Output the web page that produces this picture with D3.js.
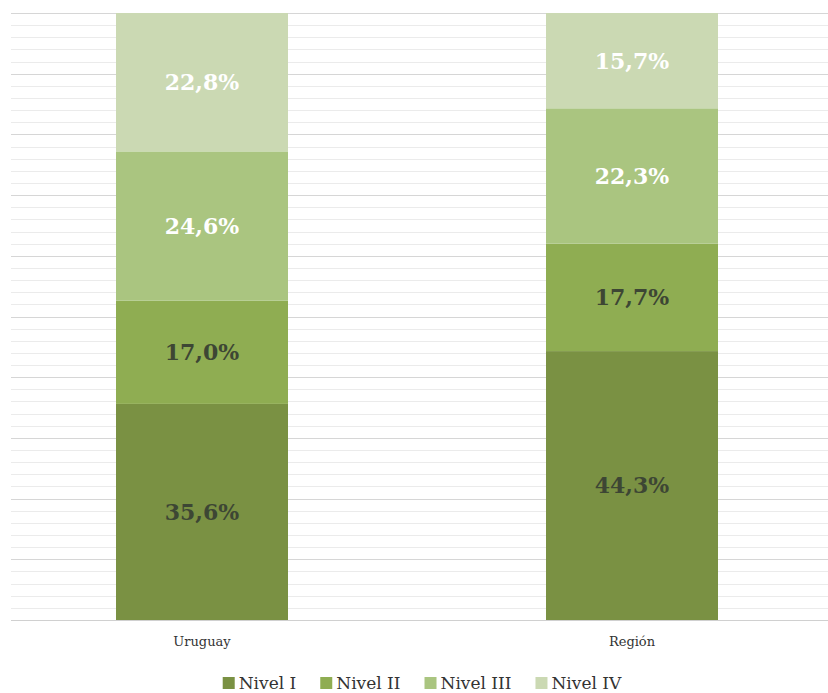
<!DOCTYPE html>
<html>
<head>
<meta charset="utf-8">
<script src="https://cdn.jsdelivr.net/npm/d3@7"></script>
<style>
  html, body { margin: 0; padding: 0; background: #fff; }
  svg { display: block; }
  text { font-family: "DejaVu Serif", "Liberation Serif", serif; }
</style>
</head>
<body>
<script>

// DATA
// ----------------------------------------------------------------------------

var categories = ['Uruguay', 'Región'];
var levels     = ['Nivel I', 'Nivel II', 'Nivel III', 'Nivel IV'];

var nivel1 = [35.6, 44.3];
var nivel2 = [17.0, 17.7];
var nivel3 = [24.6, 22.3];
var nivel4 = [22.8, 15.7];

var colors      = ['#7a9143', '#8fad52', '#aac580', '#cbd9b3'];
var labelColors = ['#3d4634', '#3d4634', '#ffffff', '#ffffff'];


// LAYOUT
// ----------------------------------------------------------------------------

var W = 828, H = 693;
var plot = { left: 11, right: 828, top: 13, bottom: 620 };

var svg = d3.select('body').append('svg')
  .attr('width', W)
  .attr('height', H);

var x = d3.scaleBand()
  .domain(categories)
  .range([-13, 847])
  .paddingInner(0.6)
  .paddingOuter(0.3);

var y = d3.scaleLinear()
  .domain([0, 100])
  .range([plot.bottom, plot.top]);


// GRID
// ----------------------------------------------------------------------------

// Minor lines every 2%, major every 10%.
var minor = d3.range(0, 101, 2).filter(function(d) { return d % 10 != 0; });
var major = d3.range(10, 101, 10);

svg.append('g').selectAll('line')
  .data(minor)
  .enter().append('line')
  .attr('x1', plot.left).attr('x2', plot.right)
  .attr('y1', function(d) { return Math.round(y(d)) + 0.5; })
  .attr('y2', function(d) { return Math.round(y(d)) + 0.5; })
  .attr('stroke', '#ebebeb')
  .attr('stroke-width', 1);

svg.append('g').selectAll('line')
  .data(major)
  .enter().append('line')
  .attr('x1', plot.left).attr('x2', plot.right)
  .attr('y1', function(d) { return Math.round(y(d)) + 0.5; })
  .attr('y2', function(d) { return Math.round(y(d)) + 0.5; })
  .attr('stroke', '#d6d6d6')
  .attr('stroke-width', 1);


// BARS
// ----------------------------------------------------------------------------

var rows = categories.map(function(c, i) {
  return {
    cat: c,
    'Nivel I': nivel1[i],
    'Nivel II': nivel2[i],
    'Nivel III': nivel3[i],
    'Nivel IV': nivel4[i]
  };
});

var stacked = d3.stack().keys(levels)(rows);

var layer = svg.append('g').selectAll('g')
  .data(stacked)
  .enter().append('g')
  .attr('fill', function(d, i) { return colors[i]; });

layer.selectAll('rect')
  .data(function(d) { return d; })
  .enter().append('rect')
  .attr('x', function(d) { return x(d.data.cat); })
  .attr('width', x.bandwidth())
  .attr('y', function(d) { return y(d[1]); })
  .attr('height', function(d) { return y(d[0]) - y(d[1]); });

// Value labels.
layer.selectAll('text')
  .data(function(d, i) {
    return d.map(function(p) { return { p: p, i: i }; });
  })
  .enter().append('text')
  .attr('x', function(d) { return x(d.p.data.cat) + x.bandwidth() / 2; })
  .attr('y', function(d) { return (y(d.p[0]) + y(d.p[1])) / 2; })
  .attr('dy', '0.36em')
  .attr('text-anchor', 'middle')
  .attr('font-size', 22)
  .attr('font-weight', 'bold')
  .attr('fill', function(d) { return labelColors[d.i]; })
  .text(function(d) {
    return (d.p[1] - d.p[0]).toFixed(1).replace('.', ',') + '%';
  });


// AXIS
// ----------------------------------------------------------------------------

svg.append('line')
  .attr('x1', plot.left).attr('x2', plot.right)
  .attr('y1', plot.bottom + 0.5).attr('y2', plot.bottom + 0.5)
  .attr('stroke', '#d0d0d0');

svg.append('g').selectAll('text')
  .data(categories)
  .enter().append('text')
  .attr('x', function(d) { return x(d) + x.bandwidth() / 2; })
  .attr('y', 646)
  .attr('text-anchor', 'middle')
  .attr('font-size', 13)
  .attr('fill', '#333')
  .text(function(d) { return d; });


// LEGEND
// ----------------------------------------------------------------------------

var legend = svg.append('g');
var lx = 0, gap = 24;

levels.forEach(function(name, i) {
  var item = legend.append('g').attr('transform', 'translate(' + lx + ',0)');
  item.append('rect')
    .attr('x', 0).attr('y', -12)
    .attr('width', 12).attr('height', 12)
    .attr('fill', colors[i]);
  var t = item.append('text')
    .attr('x', 16)
    .attr('y', 0)
    .attr('font-size', 17)
    .attr('fill', '#333')
    .text(name);
  lx += 16 + t.node().getComputedTextLength() + gap;
});

var lw = lx - gap;
legend.attr('transform', 'translate(' + (422 - lw / 2) + ',689)');

</script>
</body>
</html>
